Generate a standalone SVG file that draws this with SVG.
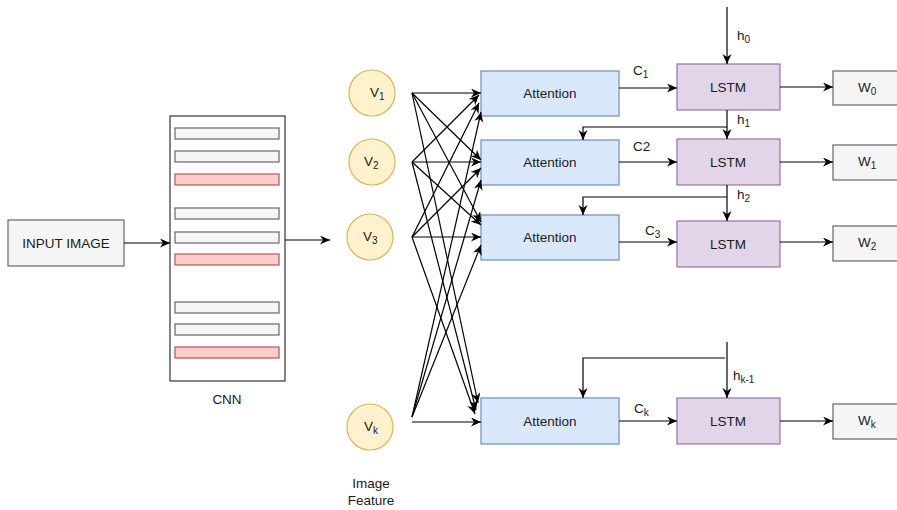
<svg xmlns="http://www.w3.org/2000/svg" width="897" height="510" viewBox="0 0 897 510">
<style>
text{font-family:"Liberation Sans",Arial,sans-serif;font-size:13.5px;fill:#1a1a1a}
.c{text-anchor:middle}
.gray{fill:#f5f5f5;stroke:#666666;stroke-width:1.2}
.red{fill:#f8cecc;stroke:#b85450;stroke-width:1.2}
.att{fill:#dae8fc;stroke:#6c8ebf;stroke-width:1.2}
.lstm{fill:#e1d5e7;stroke:#9673a6;stroke-width:1.2}
.feat{fill:#fff2cc;stroke:#d6b656;stroke-width:1.2}
.e{fill:none;stroke:#000;stroke-width:1.2;marker-end:url(#arr)}
.l{fill:none;stroke:#000;stroke-width:1.2}
.s{font-size:10px}
</style>
<defs>
<marker id="arr" markerUnits="userSpaceOnUse" markerWidth="11" markerHeight="10" refX="10" refY="4.5" orient="auto">
<path d="M0,0 L10,4.5 L0,9 L3,4.5 Z" fill="#000"/>
</marker>
</defs>

<g id="input-image">
<rect class="gray" x="8" y="220" width="116" height="46"/>
<text class="c" x="66" y="248">INPUT IMAGE</text>
</g>

<g id="cnn">
<rect x="170" y="116" width="115" height="265" fill="#fff" stroke="#333" stroke-width="1.2"/>
<rect class="gray" x="175" y="128" width="104" height="11"/>
<rect class="gray" x="175" y="151" width="104" height="11"/>
<rect class="red" x="175" y="174" width="104" height="11"/>
<rect class="gray" x="175" y="208" width="104" height="11"/>
<rect class="gray" x="175" y="232" width="104" height="11"/>
<rect class="red" x="175" y="254" width="104" height="11"/>
<rect class="gray" x="175" y="302" width="104" height="11"/>
<rect class="gray" x="175" y="324" width="104" height="11"/>
<rect class="red" x="175" y="347" width="104" height="11"/>
<text class="c" x="227" y="404">CNN</text>
</g>

<g id="v1"><circle class="feat" cx="372" cy="93" r="23"/><text x="370" y="97">V<tspan class="s" dy="3">1</tspan></text></g>
<g id="v2"><circle class="feat" cx="372" cy="162" r="23"/><text x="364" y="166">V<tspan class="s" dy="3">2</tspan></text></g>
<g id="v3"><circle class="feat" cx="370" cy="237" r="23"/><text x="363" y="241">V<tspan class="s" dy="3">3</tspan></text></g>
<g id="vk"><circle class="feat" cx="370" cy="427" r="23"/><text x="364" y="431">V<tspan class="s" dy="3">k</tspan></text></g>
<g id="image-feature-label"><text class="c" x="371" y="488">Image</text><text class="c" x="371" y="505">Feature</text></g>

<g id="attention1"><rect class="att" x="481" y="71" width="138" height="45"/><text class="c" x="550" y="98">Attention</text></g>
<g id="attention2"><rect class="att" x="481" y="140" width="138" height="45"/><text class="c" x="550" y="167">Attention</text></g>
<g id="attention3"><rect class="att" x="481" y="215" width="138" height="45"/><text class="c" x="550" y="242">Attention</text></g>
<g id="attentionk"><rect class="att" x="481" y="398" width="138" height="46"/><text class="c" x="550" y="426">Attention</text></g>

<g id="lstm1"><rect class="lstm" x="677" y="64" width="103" height="46"/><text class="c" x="728" y="92">LSTM</text></g>
<g id="lstm2"><rect class="lstm" x="677" y="139" width="103" height="46"/><text class="c" x="728" y="167">LSTM</text></g>
<g id="lstm3"><rect class="lstm" x="677" y="221" width="103" height="46"/><text class="c" x="728" y="249">LSTM</text></g>
<g id="lstmk"><rect class="lstm" x="677" y="398" width="103" height="46"/><text class="c" x="728" y="426">LSTM</text></g>

<g id="w0"><rect class="gray" x="833" y="71" width="70" height="34"/><text x="858" y="92">W<tspan class="s" dy="3">0</tspan></text></g>
<g id="w1"><rect class="gray" x="833" y="145" width="70" height="35"/><text x="858" y="166">W<tspan class="s" dy="3">1</tspan></text></g>
<g id="w2"><rect class="gray" x="833" y="226" width="70" height="35"/><text x="858" y="247">W<tspan class="s" dy="3">2</tspan></text></g>
<g id="wk"><rect class="gray" x="833" y="404" width="70" height="35"/><text x="858" y="425">W<tspan class="s" dy="3">k</tspan></text></g>

<g id="connectors">
<path class="e" d="M124,243 L170,243"/>
<path class="e" d="M285,240 L330,240"/>

<path class="e" d="M412,93 L481,93"/>
<path class="e" d="M412,93 L481,160"/>
<path class="e" d="M412,93 L481,222"/>
<path class="e" d="M412,93 L478,403"/>

<path class="e" d="M412,162 L479,95"/>
<path class="e" d="M412,162 L481,162"/>
<path class="e" d="M412,162 L481,225"/>
<path class="e" d="M412,162 L476,410"/>

<path class="e" d="M412,237 L479,103"/>
<path class="e" d="M412,237 L481,168"/>
<path class="e" d="M412,237 L481,237"/>
<path class="e" d="M412,237 L475,414"/>

<path class="e" d="M412,417 L481,112"/>
<path class="e" d="M412,417 L481,180"/>
<path class="e" d="M412,417 L481,245"/>
<path class="e" d="M412,422 L481,422"/>

<path class="e" d="M727,7 L727,64"/>
<text x="737" y="40">h<tspan class="s" dy="3">0</tspan></text>
<path class="e" d="M619,88 L677,88"/>
<text x="633" y="75">C<tspan class="s" dy="3">1</tspan></text>
<path class="e" d="M780,87 L833,87"/>

<path class="e" d="M727,110 L727,139"/>
<path class="e" d="M727,127 L583,127 L583,140"/>
<text x="737" y="124">h<tspan class="s" dy="3">1</tspan></text>
<path class="e" d="M619,162 L677,162"/>
<text x="633" y="151">C2</text>
<path class="e" d="M780,162 L833,162"/>

<path class="e" d="M727,185 L727,221"/>
<path class="e" d="M727,197 L583,197 L583,215"/>
<text x="737" y="199">h<tspan class="s" dy="3">2</tspan></text>
<path class="e" d="M619,242 L677,242"/>
<text x="645" y="235">C<tspan class="s" dy="3">3</tspan></text>
<path class="e" d="M780,242 L833,242"/>

<path class="e" d="M727,342 L727,398"/>
<path class="e" d="M725,358 L583,358 L583,398"/>
<text x="733" y="380">h<tspan class="s" dy="3">k-1</tspan></text>
<path class="e" d="M619,421 L677,421"/>
<text x="634" y="413">C<tspan class="s" dy="3">k</tspan></text>
<path class="e" d="M780,421 L833,421"/>
</g>
</svg>
